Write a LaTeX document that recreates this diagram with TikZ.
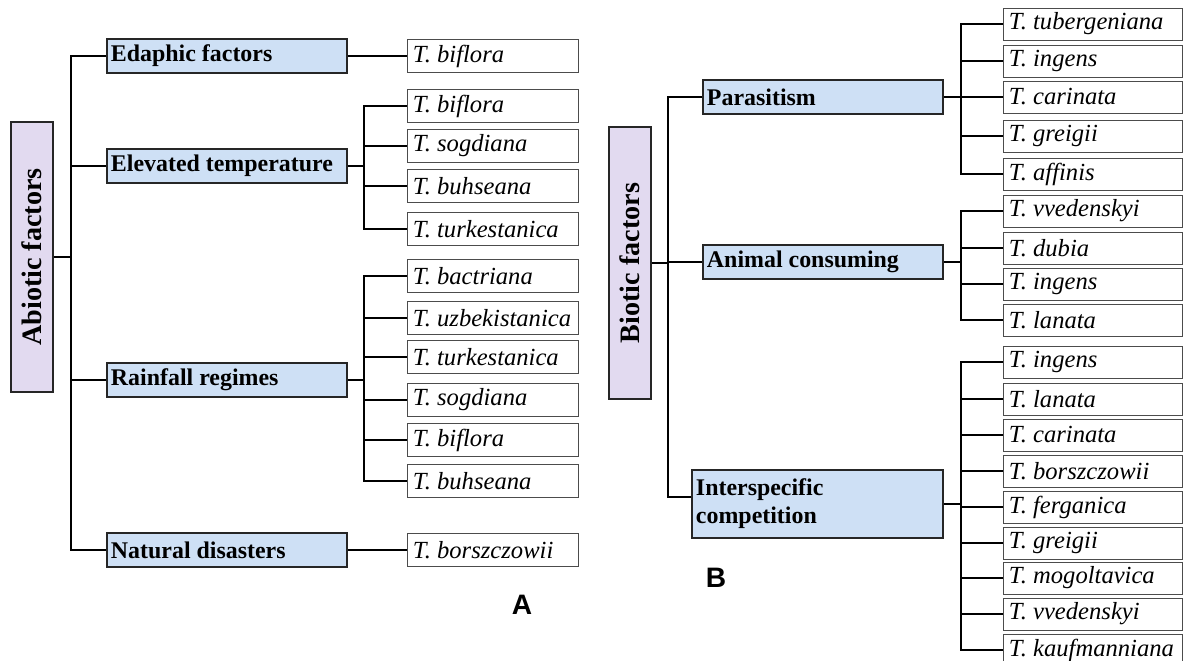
\documentclass[tikz,border=0pt]{standalone}
\usepackage{fontspec}
\setmainfont{Liberation Serif}
\newfontfamily\labelfont{Liberation Sans}
\usetikzlibrary{positioning}

\definecolor{factorblue}{RGB}{206,224,245}
\definecolor{groupviolet}{RGB}{226,218,240}

\begin{document}
\begin{tikzpicture}[
    x=0.025cm, y=-0.025cm,
    factor/.style={rectangle, draw=black!85, line width=1.1pt, fill=factorblue, text width=5.8cm, inner xsep=0.1cm, minimum height=0.85cm, align=flush left, font=\fontsize{17}{20}\selectfont\bfseries},
    group/.style={rectangle, draw=black!85, line width=1.1pt, fill=groupviolet, rotate=90, minimum height=1.05cm, font=\fontsize{20}{22}\selectfont\bfseries},
    species/.style={rectangle, draw=black!70, line width=0.6pt, text width=3.975cm, inner xsep=0.15cm, minimum height=0.82cm, align=flush left, font=\fontsize{17.5}{19}\selectfont\itshape},
    speciesR/.style={species, text width=4.175cm, minimum height=0.8cm},
    link/.style={line width=1.1pt},
    panel/.style={font=\labelfont\fontsize{20}{24}\selectfont\bfseries}
]
\useasboundingbox (0,0) rectangle (1187,661);

% Panel A: abiotic factors
\node[group, minimum width=6.75cm] (abio) at (32,257) {Abiotic factors};
\coordinate (trunkA) at (72,0);

\node[factor] (edaphic) at (227,56) {Edaphic factors};
\node[factor] (elevated) at (227,166) {Elevated temperature};
\node[factor] (rainfall) at (227,380) {Rainfall regimes};
\node[factor] (natural) at (227,550) {Natural disasters};

\draw[link] (abio.south) -- (abio.south -| trunkA);
\draw[link] (edaphic.west) -- ++(-35,0) |- (natural.west);
\draw[link] (elevated.west) -- (elevated.west -| trunkA);
\draw[link] (rainfall.west) -- (rainfall.west -| trunkA);

% Species under abiotic factors
\node[species] (ed1) at (492.5,56) {T. biflora};

\node[species] (el1) at (492.5,106) {T. biflora};
\node[species] (el2) at (492.5,146) {T. sogdiana};
\node[species] (el3) at (492.5,186) {T. buhseana};
\node[species] (el4) at (492.5,229) {T. turkestanica};

\node[species] (ra1) at (492.5,276) {T. bactriana};
\node[species] (ra2) at (492.5,318) {T. uzbekistanica};
\node[species] (ra3) at (492.5,357) {T. turkestanica};
\node[species] (ra4) at (492.5,400) {T. sogdiana};
\node[species] (ra5) at (492.5,440) {T. biflora};
\node[species] (ra6) at (492.5,481) {T. buhseana};

\node[species] (na1) at (492.5,550) {T. borszczowii};

\coordinate (spineA) at (364,0);
\draw[link] (edaphic.east) -- (ed1.west);
\draw[link] (elevated.east) -- (elevated.east -| spineA);
\draw[link] (el1.west) -- (el1.west -| spineA) |- (el4.west);
\draw[link] (el2.west) -- (el2.west -| spineA);
\draw[link] (el3.west) -- (el3.west -| spineA);
\draw[link] (rainfall.east) -- (rainfall.east -| spineA);
\draw[link] (ra1.west) -- (ra1.west -| spineA) |- (ra6.west);
\draw[link] (ra2.west) -- (ra2.west -| spineA);
\draw[link] (ra3.west) -- (ra3.west -| spineA);
\draw[link] (ra4.west) -- (ra4.west -| spineA);
\draw[link] (ra5.west) -- (ra5.west -| spineA);
\draw[link] (natural.east) -- (na1.west);

\node[panel] (labA) at (522,605) {A};

% Panel B: biotic factors
\node[group, minimum width=6.8cm] (bio) at (630,263) {Biotic factors};
\coordinate (trunkB) at (669,0);

\node[factor] (parasit) at (823,97) {Parasitism};
\node[factor] (animal) at (823,262) {Animal consuming};
\node[factor, text width=6.075cm, minimum height=1.7cm] (inter) at (817.5,504) {Interspecific\\competition};

\draw[link] (bio.south) -- (bio.south -| trunkB);
\draw[link] (parasit.west) -- ++(-34,0) |- ([yshift=5pt]inter.west);
\draw[link] (animal.west) -- (animal.west -| trunkB);

% Species under biotic factors
\node[speciesR] (pa1) at (1092.5,24) {T. tubergeniana};
\node[speciesR] (pa2) at (1092.5,61) {T. ingens};
\node[speciesR] (pa3) at (1092.5,97) {T. carinata};
\node[speciesR] (pa4) at (1092.5,136) {T. greigii};
\node[speciesR] (pa5) at (1092.5,174) {T. affinis};

\node[speciesR] (an1) at (1092.5,211) {T. vvedenskyi};
\node[speciesR] (an2) at (1092.5,248) {T. dubia};
\node[speciesR] (an3) at (1092.5,284) {T. ingens};
\node[speciesR] (an4) at (1092.5,320) {T. lanata};

\node[speciesR] (in1) at (1092.5,362) {T. ingens};
\node[speciesR] (in2) at (1092.5,399) {T. lanata};
\node[speciesR] (in3) at (1092.5,435) {T. carinata};
\node[speciesR] (in4) at (1092.5,471) {T. borszczowii};
\node[speciesR] (in5) at (1092.5,507) {T. ferganica};
\node[speciesR] (in6) at (1092.5,543) {T. greigii};
\node[speciesR] (in7) at (1092.5,578) {T. mogoltavica};
\node[speciesR] (in8) at (1092.5,614) {T. vvedenskyi};
\node[speciesR] (in9) at (1092.5,650) {T. kaufmanniana};

\coordinate (spineB) at (961,0);
\draw[link] (parasit.east) -- (parasit.east -| spineB);
\draw[link] (pa1.west) -- (pa1.west -| spineB) |- (pa5.west);
\draw[link] (pa2.west) -- (pa2.west -| spineB);
\draw[link] (pa3.west) -- (pa3.west -| spineB);
\draw[link] (pa4.west) -- (pa4.west -| spineB);
\draw[link] (animal.east) -- (animal.east -| spineB);
\draw[link] (an1.west) -- (an1.west -| spineB) |- (an4.west);
\draw[link] (an2.west) -- (an2.west -| spineB);
\draw[link] (an3.west) -- (an3.west -| spineB);
\draw[link] (inter.east) -- (inter.east -| spineB);
\draw[link] (in1.west) -- (in1.west -| spineB) |- (in9.west);
\draw[link] (in2.west) -- (in2.west -| spineB);
\draw[link] (in3.west) -- (in3.west -| spineB);
\draw[link] (in4.west) -- (in4.west -| spineB);
\draw[link] (in5.west) -- (in5.west -| spineB);
\draw[link] (in6.west) -- (in6.west -| spineB);
\draw[link] (in7.west) -- (in7.west -| spineB);
\draw[link] (in8.west) -- (in8.west -| spineB);

\node[panel] (labB) at (716,578) {B};

\end{tikzpicture}
\end{document}
